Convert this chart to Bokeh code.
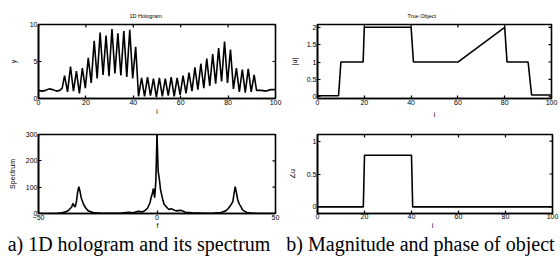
import math
from bokeh.plotting import figure
from bokeh.layouts import column, row
from bokeh.models import Range1d, FixedTicker
from bokeh.core.properties import value
from bokeh.embed import file_html
from bokeh.resources import INLINE

# ---- data ----
holo_i = [0, 1.5, 3, 4.5, 6, 7.5, 9, 10,
          11, 12.25, 13.5, 14.75, 16, 17.25, 18.5, 19.75, 21, 22.25, 23.5, 24.75,
          26, 27.25, 28.5, 29.75, 31, 32.25, 33.5, 34.75, 36, 37.25, 38.5, 39.75, 41, 42.2,
          43.5, 44.75, 46, 47.25, 48.5, 49.75, 51, 52.25, 53.5, 54.75, 56, 57.25, 58.5, 59.75,
          61, 62.25, 63.5, 64.75, 66, 67.25, 68.5, 69.75, 71, 72.25, 73.5, 74.75, 76, 77.25,
          78.5, 79.75, 81, 82.25, 83.5, 84.75, 86, 87.25, 88.5, 89.75, 91, 92, 94, 96, 98, 100]
holo_y = [1.1, 1.0, 1.1, 1.3, 1.2, 1.0, 1.1, 1.4,
          3.1, 0.9, 4.3, 1.0, 3.7, 0.7, 4.1, 1.4, 5.5, 2.1, 7.8, 2.7,
          8.9, 3.2, 8.5, 3.0, 9.4, 3.4, 8.8, 3.1, 9.1, 2.9, 9.3, 2.7, 7.0, 0.3,
          2.8, 0.3, 2.9, 0.4, 2.7, 0.2, 2.8, 0.3, 2.7, 0.4, 2.9, 0.3, 2.8, 0.5,
          3.1, 0.7, 3.5, 1.0, 4.2, 1.2, 4.7, 1.4, 5.4, 1.7, 6.0, 2.0, 6.8, 2.3,
          7.7, 2.1, 6.6, 1.3, 4.1, 0.9, 3.9, 0.8, 4.0, 0.9, 3.2, 1.1, 1.1, 1.0, 1.2, 1.2]

spec_f = [-50, -42, -40, -38, -37, -36, -35.5, -35, -34.5, -34, -33.5, -33, -32.5, -32, -31, -30,
          -29, -27, -24, -20, -15, -12, -10, -8, -6, -5, -4, -3, -2.5, -2, -1.5, -1, -0.5, 0,
          0.5, 1, 1.5, 2, 2.5, 3, 4, 5, 6, 8, 10, 12, 15, 20, 24, 27, 29, 30, 31, 32, 32.5,
          33, 33.5, 34, 34.5, 35, 35.5, 36, 37, 38, 40, 42, 50]
spec_s = [0, 1, 3, 8, 15, 25, 38, 30, 25, 45, 80, 102, 85, 60, 35, 20,
          10, 4, 2, 1, 2, 5, 3, 8, 6, 12, 20, 40, 60, 75, 95, 60, 120, 300,
          160, 130, 90, 70, 50, 35, 25, 15, 18, 10, 12, 5, 3, 1, 2, 4, 10, 18, 30, 45, 75,
          102, 80, 55, 40, 32, 25, 15, 8, 4, 2, 1, 0]

obj_i = [0, 9, 10, 19.5, 20, 40, 41, 60, 80, 81, 90, 91.5, 100]
obj_mag = [0.03, 0.03, 1, 1, 2, 2, 1, 1, 2, 1, 1, 0.05, 0.05]

phase_i = [0, 19.5, 20, 40, 40.5, 100]
phase_v = [0, 0, 0.785, 0.785, 0, 0]

ticks_i = [0, 20, 40, 60, 80, 100]
ticks_holo = [0, 5, 10]
ticks_f = [-50, 0, 50]
ticks_spec = [0, 100, 200, 300]
ticks_mag = [0, 0.5, 1, 1.5, 2]
ticks_phase = [0, 0.5, 1]

captions = ["a) 1D hologram and its spectrum", "b) Magnitude and phase of object"]

FONT = "Liberation Sans"


def style_axis(ax, t, lab, lab_standoff):
    ax.ticker = FixedTicker(ticks=t)
    ax.axis_line_color = "black"
    ax.axis_line_width = 1.6
    ax.major_tick_in = 3
    ax.major_tick_out = 0
    ax.major_tick_line_color = "black"
    ax.major_tick_line_width = 1.2
    ax.minor_tick_line_color = None
    ax.major_label_text_font = FONT
    ax.major_label_text_color = "black"
    ax.major_label_text_font_size = "7px"
    ax.major_label_standoff = 1
    if lab:
        ax.axis_label = lab
        ax.axis_label_text_font = FONT
        ax.axis_label_text_color = "black"
        ax.axis_label_text_font_size = "7px"
        ax.axis_label_text_font_style = "normal"
        ax.axis_label_standoff = lab_standoff


def make(width, height, xr, yr, bl, br, bt, bb, xticks, yticks, xlabel, ylabel, xs=0, ys=0):
    p = figure(width=width, height=height, output_backend="svg", toolbar_location=None,
               x_range=Range1d(*xr), y_range=Range1d(*yr),
               min_border_left=bl, min_border_right=br, min_border_top=bt, min_border_bottom=bb)
    p.grid.visible = False
    p.outline_line_color = "black"
    p.outline_line_width = 1.6
    p.background_fill_color = "white"
    p.border_fill_color = "white"
    style_axis(p.xaxis[0], xticks, xlabel, xs)
    style_axis(p.yaxis[0], yticks, ylabel, ys)
    # MATLAB-style box ticks on the top and right edges
    p.ray(x=xticks, y=[yr[1]] * len(xticks), length=3, length_units="screen",
          angle=-math.pi / 2, line_color="black", line_width=1.2)
    p.ray(x=[xr[1]] * len(yticks), y=yticks, length=3, length_units="screen",
          angle=math.pi, line_color="black", line_width=1.2)
    return p


def set_title(p, text, offset):
    p.title.text = text
    p.title.text_font = FONT
    p.title.text_font_size = "5.5px"
    p.title.text_font_style = "normal"
    p.title.text_color = "black"
    p.title.align = "left"
    p.title.offset = offset
    p.title.standoff = 11


LW = 1.6

# top-left: frame x 38-275, y 23-100
p1 = make(285, 120, (0, 100), (0, 10), 38, 10, 23, 20, ticks_i, ticks_holo, "i", "y", 0, 10)
p1.line(holo_i, holo_y, line_color="black", line_width=LW)
set_title(p1, "1D Hologram", 91)

# top-right: frame x 317-551, y 24-101
p2 = make(275, 120, (0, 100), (-0.05, 2.08), 32, 9, 24, 19, ticks_i, ticks_mag, "i", "|u|", 3, 6)
p2.line(obj_i, obj_mag, line_color="black", line_width=LW)
set_title(p2, "True Object", 90)

# bottom-left: frame x 38-275, y 134-213 (x-axis name drawn in the strip below)
p3 = make(280, 102, (-50, 50), (0, 300), 38, 5, 14, 9, ticks_f, ticks_spec, None, "Spectrum", 0, 7)
p3.line(spec_f, spec_s, line_color="black", line_width=LW)

# bottom-right: frame x 317-552, y 134-214
p4 = make(280, 102, (0, 100), (-0.1, 1.1), 37, 8, 14, 8, ticks_i, ticks_phase, None, "∠u", 0, 8)
p4.xaxis[0].major_label_standoff = 0
p4.line(phase_i, phase_v, line_color="black", line_width=LW)

# strip under the bottom row: page y 222-261 (data y = 261 - page y)
cap = figure(width=560, height=39, output_backend="svg", toolbar_location=None,
             x_range=Range1d(0, 560), y_range=Range1d(0, 39),
             x_axis_location=None, y_axis_location=None, min_border=0)
cap.grid.visible = False
cap.outline_line_color = None
cap.text(x=[157, 432], y=[36, 36], text=["f", "i"], text_font=value(FONT),
         text_font_size=value("7px"), text_color="black", text_align="center",
         text_baseline="middle")
cap.text(x=[138.5], y=[18], text=[captions[0]], text_font=value("Liberation Serif"),
         text_font_size=value("20px"), text_color="black", text_align="center",
         text_baseline="alphabetic")
cap.text(x=[420], y=[18], text=[captions[1]], text_font=value("Liberation Serif"),
         text_font_size=value("20px"), text_color="black", text_align="center",
         text_baseline="alphabetic")

layout = column(row(p1, p2), row(p3, p4), cap)
open("out.html", "w").write(file_html(layout, INLINE))
